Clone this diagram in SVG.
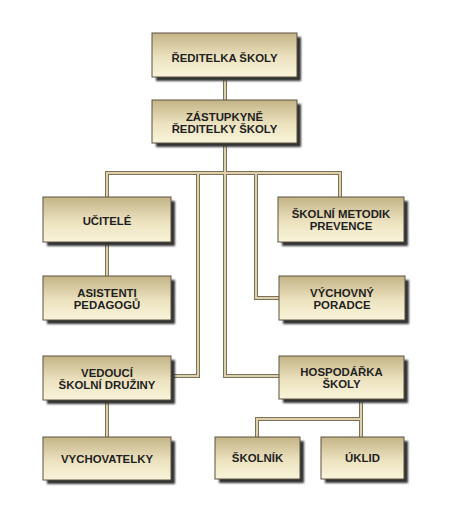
<svg xmlns="http://www.w3.org/2000/svg" xmlns:xlink="http://www.w3.org/1999/xlink" width="454" height="529" viewBox="0 0 454 529">
<defs>
<linearGradient id="boxfill" x1="0" y1="0" x2="0" y2="1">
<stop offset="0" stop-color="#c4b487"/>
<stop offset="0.55" stop-color="#ece2bf"/>
<stop offset="1" stop-color="#f9f4da"/>
</linearGradient>
<filter id="blur" x="-10%" y="-10%" width="120%" height="130%">
<feGaussianBlur stdDeviation="0.8"/>
</filter>
<g id="wires">
<path d="M225,77 V100"/>
<path d="M225,143 V376 H279"/>
<path d="M107,197 V173 H340 V197"/>
<path d="M198,173 V376 H171"/>
<path d="M256,173 V298 H279"/>
<path d="M107,242 V276"/>
<path d="M107,400 V437"/>
<path d="M361,399 V437"/>
<path d="M361,419 H257 V437"/>
</g>
</defs>
<style>
.shadow{fill:#333333;filter:url(#blur)}
.box{fill:url(#boxfill);stroke:#5b5240;stroke-width:1}
.t{font-family:"Liberation Sans",Arial,sans-serif;font-weight:bold;font-size:11.4px;fill:#1f1f1f;text-anchor:middle}
.wo{fill:none;stroke:#7d7158;stroke-width:4;stroke-linejoin:miter}
.wi{fill:none;stroke:#ddd1ab;stroke-width:2;stroke-linejoin:miter}
</style>
<rect width="454" height="529" fill="#ffffff"/>
<g id="connectors">
<use xlink:href="#wires" class="wo"/>
<use xlink:href="#wires" class="wi"/>
</g>
<g id="reditelka">
<rect class="shadow" x="156" y="37" width="145" height="44"/>
<rect class="box" x="152" y="33" width="145" height="44"/>
<text class="t" x="224.5" y="61.5">ŘEDITELKA ŠKOLY</text>
</g>
<g id="zastupkyne">
<rect class="shadow" x="156" y="104" width="145" height="43"/>
<rect class="box" x="152" y="100" width="145" height="43"/>
<text class="t" x="224.5" y="120.5">ZÁSTUPKYNĚ</text>
<text class="t" x="224.5" y="132.5">ŘEDITELKY ŠKOLY</text>
</g>
<g id="ucitele">
<rect class="shadow" x="47" y="201" width="128" height="45"/>
<rect class="box" x="43" y="197" width="128" height="45"/>
<text class="t" x="107" y="225">UČITELÉ</text>
</g>
<g id="metodik">
<rect class="shadow" x="282" y="201" width="126" height="45"/>
<rect class="box" x="278" y="197" width="126" height="45"/>
<text class="t" x="341" y="218">ŠKOLNÍ METODIK</text>
<text class="t" x="341" y="230">PREVENCE</text>
</g>
<g id="asistenti">
<rect class="shadow" x="47" y="280" width="128" height="44"/>
<rect class="box" x="43" y="276" width="128" height="44"/>
<text class="t" x="107" y="296.5">ASISTENTI</text>
<text class="t" x="107" y="308.5">PEDAGOGŮ</text>
</g>
<g id="poradce">
<rect class="shadow" x="283" y="280" width="126" height="44"/>
<rect class="box" x="279" y="276" width="126" height="44"/>
<text class="t" x="342" y="296.5">VÝCHOVNÝ</text>
<text class="t" x="342" y="308.5">PORADCE</text>
</g>
<g id="vedouci">
<rect class="shadow" x="47" y="360" width="128" height="44"/>
<rect class="box" x="43" y="356" width="128" height="44"/>
<text class="t" x="107" y="376.5">VEDOUCÍ</text>
<text class="t" x="107" y="388.5">ŠKOLNÍ DRUŽINY</text>
</g>
<g id="hospodarka">
<rect class="shadow" x="283" y="360" width="125" height="43"/>
<rect class="box" x="279" y="356" width="125" height="43"/>
<text class="t" x="341.5" y="376">HOSPODÁŘKA</text>
<text class="t" x="341.5" y="388">ŠKOLY</text>
</g>
<g id="vychovatelky">
<rect class="shadow" x="47" y="441" width="128" height="43"/>
<rect class="box" x="43" y="437" width="128" height="43"/>
<text class="t" x="107" y="462.5">VYCHOVATELKY</text>
</g>
<g id="skolnik">
<rect class="shadow" x="219" y="441" width="85" height="42"/>
<rect class="box" x="215" y="437" width="85" height="42"/>
<text class="t" x="257.5" y="462">ŠKOLNÍK</text>
</g>
<g id="uklid">
<rect class="shadow" x="325" y="441" width="83" height="42"/>
<rect class="box" x="321" y="437" width="83" height="42"/>
<text class="t" x="362.5" y="462">ÚKLID</text>
</g>
</svg>
